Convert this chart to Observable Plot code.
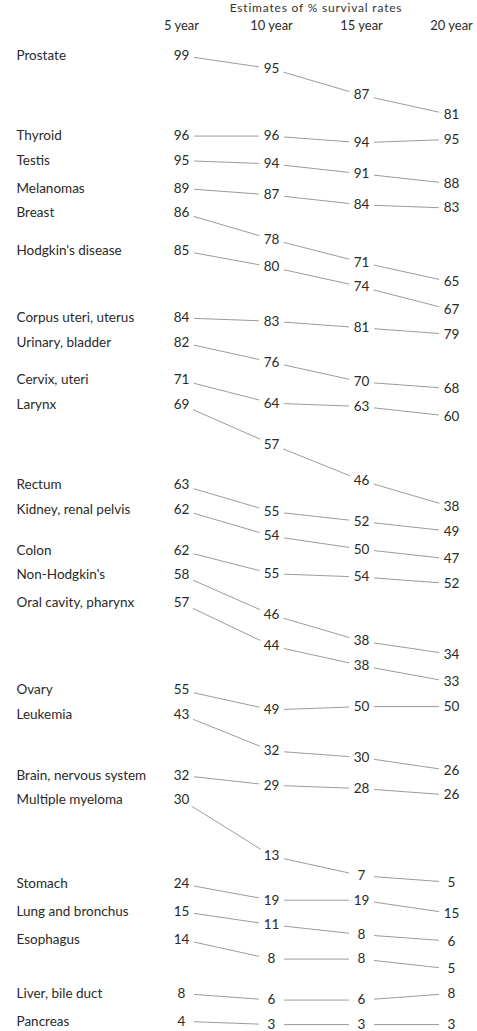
<!DOCTYPE html>
<html><head><meta charset="utf-8">
<script src="https://cdn.jsdelivr.net/npm/d3@7"></script>
<script src="https://cdn.jsdelivr.net/npm/@observablehq/plot@0.6"></script>
<style>
body{margin:0;background:#fff;font-family:Lato,"Open Sans",sans-serif;}
#wrap{position:relative;width:477px;height:1031px;overflow:hidden;background:#fff}
#chart{position:absolute;top:0;left:0}
#title{position:absolute;top:1px;left:186px;width:260px;text-align:center;font-size:12px;line-height:13px;letter-spacing:0.8px;color:#333;z-index:2}
</style></head>
<body><div id="wrap"><div id="chart"></div><div id="title">Estimates of % survival rates</div></div>
<script>
const years = ["5 year", "10 year", "15 year", "20 year"];
const sites = ["Prostate", "Thyroid", "Testis", "Melanomas", "Breast", "Hodgkin's disease",
  "Corpus uteri, uterus", "Urinary, bladder", "Cervix, uteri", "Larynx", "Rectum",
  "Kidney, renal pelvis", "Colon", "Non-Hodgkin's", "Oral cavity, pharynx", "Ovary",
  "Leukemia", "Brain, nervous system", "Multiple myeloma", "Stomach", "Lung and bronchus",
  "Esophagus", "Liver, bile duct", "Pancreas"];
const year5  = [99, 96, 95, 89, 86, 85, 84, 82, 71, 69, 63, 62, 62, 58, 57, 55, 43, 32, 30, 24, 15, 14, 8, 4];
const year10 = [95, 96, 94, 87, 78, 80, 83, 76, 64, 57, 55, 54, 55, 46, 44, 49, 32, 29, 13, 19, 11, 8, 6, 3];
const year15 = [87, 94, 91, 84, 71, 74, 81, 70, 63, 46, 52, 50, 54, 38, 38, 50, 30, 28, 7, 19, 8, 8, 6, 3];
const year20 = [81, 95, 88, 83, 65, 67, 79, 68, 60, 38, 49, 47, 52, 34, 33, 50, 26, 26, 5, 15, 6, 5, 8, 3];

// layout: each row is pushed down so it keeps a minimum gap (in % units) below earlier rows
const GAP = 7.42, K = 3.3, TOP = 55;
const series = [year5, year10, year15, year20];
const floor = [Infinity, Infinity, Infinity, Infinity];
const rows = sites.map((site, i) => {
  const vals = series.map(s => s[i]);
  let shift = 0;
  if (i > 0) shift = d3.max(vals, (v, j) => v - floor[j]) + GAP;
  const pos = vals.map(v => v - shift);
  pos.forEach((p, j) => floor[j] = Math.min(floor[j], p));
  return {site, vals, pos};
});
const points = rows.flatMap(r => r.vals.map((v, j) => ({site: r.site, year: years[j], value: v, pos: r.pos[j]})));
const segments = rows.flatMap(r => [0, 1, 2].map(j => ({x1: years[j], x2: years[j + 1], y1: r.pos[j], y2: r.pos[j + 1]})));
const yMax = d3.max(points, d => d.pos), yMin = d3.min(points, d => d.pos);

const chart = Plot.plot({
  width: 477, height: 1031,
  marginTop: 32, marginLeft: 16, marginRight: 0, marginBottom: 0,
  style: {fontFamily: "Lato, 'Open Sans', sans-serif", fontSize: "13.5px", color: "#2a2a2a", background: "#fff"},
  x: {type: "point", domain: years, range: [180, 452], padding: 0},
  y: {domain: [yMax, yMin], range: [TOP, TOP + K * (yMax - yMin)], axis: null},
  marks: [
    Plot.axisX({anchor: "top", tickSize: 0, tickPadding: 3, label: null, fontSize: 13}),
    Plot.arrow(segments, {x1: "x1", y1: "y1", x2: "x2", y2: "y2", headLength: 0, inset: 13, stroke: "#909090", strokeWidth: 0.9}),
    Plot.text(points, {x: "year", y: "pos", text: d => String(d.value), fill: "#2a2a2a"}),
    Plot.text(rows, {frameAnchor: "left", y: d => d.pos[0], text: "site", textAnchor: "start", fill: "#2a2a2a"})
  ]
});
document.getElementById("chart").appendChild(chart);
</script>
</body></html>
